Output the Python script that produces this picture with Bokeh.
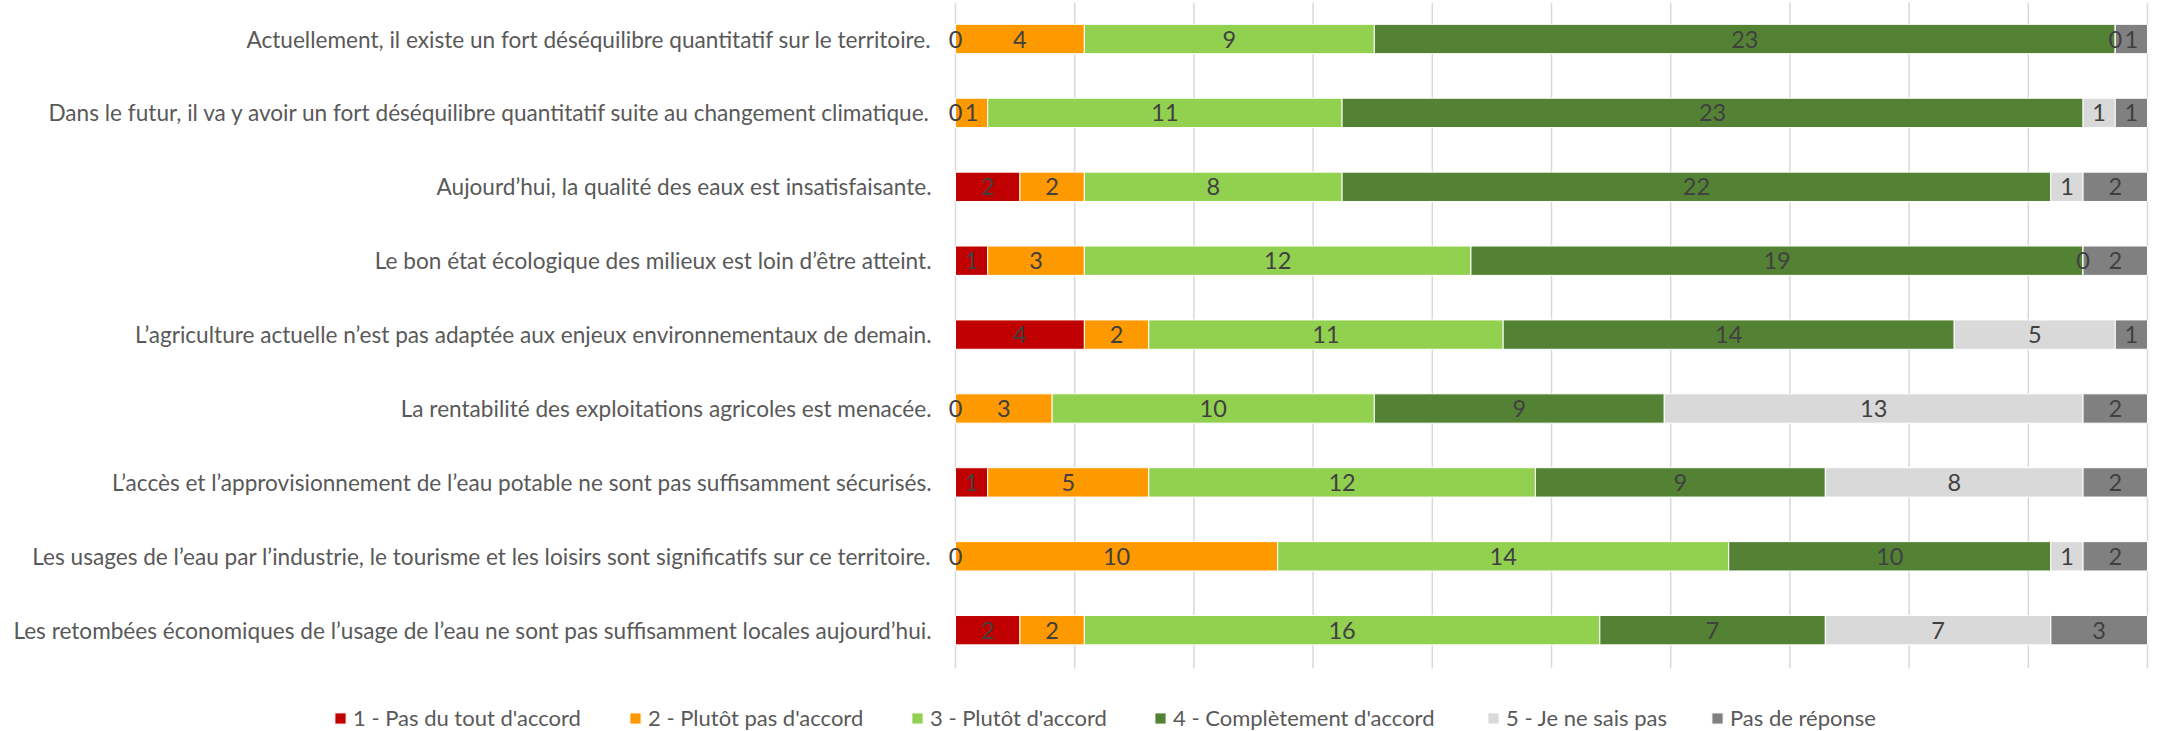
from bokeh.plotting import figure
from bokeh.models import (ColumnDataSource, LabelSet, Legend, LegendItem, Range1d)
from bokeh.core.properties import value
from bokeh.embed import file_html
from bokeh.resources import INLINE

statements = [
    "Actuellement, il existe un fort déséquilibre quantitatif sur le territoire.",
    "Dans le futur, il va y avoir un fort déséquilibre quantitatif suite au changement climatique.",
    "Aujourd’hui, la qualité des eaux est insatisfaisante.",
    "Le bon état écologique des milieux est loin d’être atteint.",
    "L’agriculture actuelle n’est pas adaptée aux enjeux environnementaux de demain.",
    "La rentabilité des exploitations agricoles est menacée.",
    "L’accès et l’approvisionnement de l’eau potable ne sont pas suffisamment sécurisés.",
    "Les usages de l’eau par l’industrie, le tourisme et les loisirs sont significatifs sur ce territoire.",
    "Les retombées économiques de l’usage de l’eau ne sont pas suffisamment locales aujourd’hui.",
]

series_names = [
    "1 - Pas du tout d'accord",
    "2 - Plutôt pas d'accord",
    "3 - Plutôt d'accord",
    "4 - Complètement d'accord",
    "5 - Je ne sais pas",
    "Pas de réponse",
]

pas_du_tout = [0, 0, 2, 1, 4, 0, 1, 0, 2]
plutot_pas = [4, 1, 2, 3, 2, 3, 5, 10, 2]
plutot = [9, 11, 8, 12, 11, 10, 12, 14, 16]
completement = [23, 23, 22, 19, 14, 9, 9, 10, 7]
ne_sais_pas = [0, 1, 1, 0, 5, 13, 8, 1, 7]
pas_de_reponse = [1, 1, 2, 2, 1, 2, 2, 2, 3]

grid_ticks = [i / 10 for i in range(11)]

colors = ["#C00000", "#FF9900", "#92D050", "#548235", "#D9D9D9", "#808080"]

FONT = "Lato"

series_values = [pas_du_tout, plutot_pas, plutot, completement, ne_sais_pas, pas_de_reponse]
n = len(statements)
ypos = [n - 1 - i for i in range(n)]
totals = [sum(s[i] for s in series_values) for i in range(n)]

# layout geometry (pixels): whole canvas is the plotting frame
W, H = 2176, 731
X_PX = 1192.0            # pixels for 100 %
X0_PX = 955.0            # pixel position of 0 %
Y_PX = 73.9              # pixels per category
TOP_PX = 38.5            # pixel position of first bar centre
x_start = -X0_PX / X_PX
x_end = x_start + W / X_PX
y_end = (n - 1) + TOP_PX / Y_PX
y_start = y_end - H / Y_PX
band_bottom = -0.514
band_top = (n - 1) + 0.49

p = figure(width=W, height=H, output_backend="svg", toolbar_location=None,
           x_range=Range1d(x_start, x_end), y_range=Range1d(y_start, y_end),
           x_axis_location=None, y_axis_location=None,
           min_border_left=0, min_border_right=0, min_border_top=0,
           min_border_bottom=0)
p.outline_line_color = None
p.background_fill_color = "white"
p.border_fill_color = "white"
p.xgrid.visible = False
p.ygrid.visible = False

# vertical gridlines (value axis, every 10 %)
gsrc = ColumnDataSource(dict(x=grid_ticks, y0=[band_bottom] * len(grid_ticks),
                             y1=[band_top] * len(grid_ticks)))
p.segment(x0="x", x1="x", y0="y0", y1="y1", source=gsrc,
          line_color="#D9D9D9", line_width=1.5)

cum = [0.0] * n
renderers = []
lab_x, lab_y, lab_t = [], [], []
for name, vals, col in zip(series_names, series_values, colors):
    left = [cum[i] for i in range(n)]
    right = [cum[i] + vals[i] / totals[i] for i in range(n)]
    src = ColumnDataSource(dict(y=ypos, left=left, right=right))
    r = p.hbar(y="y", left="left", right="right", height=0.397, source=src,
               fill_color=col, line_color="white", line_width=1)
    renderers.append(r)
    for i in range(n):
        lab_x.append((left[i] + right[i]) / 2)
        lab_y.append(ypos[i])
        lab_t.append(str(vals[i]))
    cum = right

lab_src = ColumnDataSource(dict(x=lab_x, y=lab_y, t=lab_t))
p.add_layout(LabelSet(x="x", y="y", text="t", source=lab_src, text_align="center",
                      text_baseline="middle", text_font=value(FONT),
                      text_font_size="23.5px", text_color="#404040"))

# category labels
cat_src = ColumnDataSource(dict(x=[0.0] * n, y=ypos, t=statements))
p.add_layout(LabelSet(x="x", y="y", text="t", source=cat_src, x_offset=-24,
                      text_align="right", text_baseline="middle",
                      text_font=value(FONT), text_font_size="22.6px",
                      text_color="#595959"))

# legend, one entry per box so each sits where the reference has it
legend_x = [333, 628, 910, 1153, 1486, 1710]
for name, r, lx in zip(series_names, renderers, legend_x):
    lg = Legend(items=[LegendItem(label=name, renderers=[r], index=0)],
                orientation="horizontal", location=(lx, 0),
                glyph_width=14, glyph_height=14, label_standoff=6,
                padding=0, margin=0, border_line_color=None,
                background_fill_alpha=0, label_text_font=FONT,
                label_text_font_size="22px", label_text_color="#595959",
                label_height=22)
    p.add_layout(lg, "center")

open("out.html", "w").write(file_html(p, INLINE))
